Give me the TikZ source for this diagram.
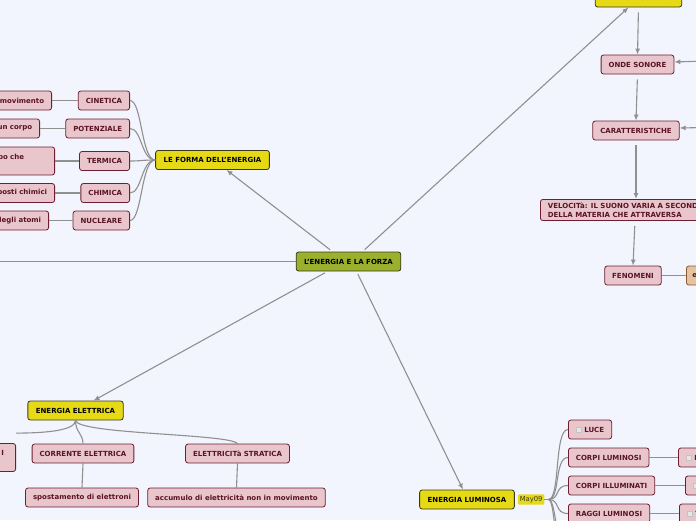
\documentclass[tikz,border=0pt]{standalone}
\usepackage{fontspec}
\setmainfont{DejaVu Sans}
\usepackage{xcolor}
\usepackage{tikz}
\usetikzlibrary{arrows.meta, positioning}
\definecolor{mapbg}{HTML}{F2F5FD}
\definecolor{pinkfill}{HTML}{E8C6CB}
\definecolor{pinkline}{HTML}{6E1E30}
\definecolor{pinktext}{HTML}{5B1326}
\definecolor{yelfill}{HTML}{E6DA17}
\definecolor{yelline}{HTML}{3A3A1A}
\definecolor{olivefill}{HTML}{9BB02C}
\definecolor{tanfill}{HTML}{E6C3A0}
\definecolor{tanline}{HTML}{8A5A30}
\definecolor{linkgray}{HTML}{909090}
\definecolor{chkfill}{HTML}{E6E6E6}
\definecolor{chkline}{HTML}{C4C4C4}
\newcommand\chkbox{{\setlength{\fboxsep}{0pt}\setlength{\fboxrule}{0.5pt}\fcolorbox{chkline}{chkfill}{\rule{0pt}{5pt}\rule{5pt}{0pt}}}}

\begin{document}
\begin{tikzpicture}[
  x=1pt, y=-1pt,
  every node/.style={font=\fontsize{7}{8.8}\selectfont\bfseries, align=center},
  mmbox/.style={draw=pinkline, fill=pinkfill, text=pinktext, line width=0.8pt, rounded corners=2.5pt, minimum height=19pt, inner xsep=7.5pt},
  mmtall/.style={mmbox, minimum height=28pt, align=right},
  topbox/.style={draw=yelline, fill=yelfill, text=black, line width=0.8pt, rounded corners=2.5pt, minimum height=19pt, inner xsep=8pt},
  rootbox/.style={topbox, fill=olivefill},
  tanbox/.style={draw=tanline, fill=tanfill, text=pinktext, line width=0.8pt, rounded corners=2.5pt, minimum height=19pt, inner xsep=6pt},
  datetag/.style={fill=yelfill, text=yelline, inner sep=1.8pt, rounded corners=1pt, font=\fontsize{6.8}{8}\selectfont},
  arr/.style={-{Latex[length=6pt,width=5pt]}, linkgray, line width=1.1pt, shorten <=3pt},
  link/.style={linkgray, line width=1.1pt}
]
\useasboundingbox (0,0) rectangle (696,520);
\fill[mapbg] (0,0) rectangle (696,520);
\clip (0,0) rectangle (696,520);

% root
\node[rootbox] (root) at (348.5,261.5) {L'ENERGIA E LA FORZA};
\coordinate (offleft) at (-10,261.5);
\draw[link] (root.west) -- (offleft);

% LE FORMA DELL'ENERGIA
\node[topbox] (forma) at (212.5,160) {LE FORMA DELL'ENERGIA};
\node[mmbox, anchor=east] (cin) at (130,100.5) {CINETICA};
\node[mmbox, anchor=east] (pot) at (130,128.5) {POTENZIALE};
\node[mmbox, anchor=east] (term) at (130,161) {TERMICA};
\node[mmbox, anchor=east] (chim) at (130,193) {CHIMICA};
\node[mmbox, anchor=east] (nucl) at (130,220.5) {NUCLEARE};
\node[mmbox, anchor=east, text width=70pt, align=right] (cinl) at (52,100.5) {movimento};
\node[mmbox, anchor=east, text width=70pt, align=right] (potl) at (40,128.5) {un corpo};
\node[mmtall, anchor=east, text width=70pt] (terml) at (55,161) {\mbox{po che\kern 23pt}\\\mbox{}};
\node[mmbox, anchor=east, text width=70pt, align=right] (chiml) at (55,193) {posti chimici};
\node[mmbox, anchor=east, text width=70pt, align=right] (nucll) at (49,220.5) {degli atomi};
\foreach \k in {cin,pot,term,chim,nucl}{
  \draw[link] (\k.east) .. controls +(12,0) and +(-14,0) .. (forma.west);
  \draw[link] (\k l.east) -- (\k.west);
}
\draw[arr] ([xshift=-16pt]root.north) -- ([xshift=14pt]forma.south);

% ENERGIA SONORA
\node[topbox] (sonora) at (638.5,-2.5) {ENERGIA SONORA};
\node[mmbox] (onde) at (637.5,64.5) {ONDE SONORE};
\node[mmbox] (caratt) at (636,130.5) {CARATTERISTICHE};
\node[mmbox, anchor=west, align=left] (veloc) at (540,210) {VELOCITà: IL SUONO VARIA A SECONDA\\DELLA MATERIA CHE ATTRAVERSA};
\node[mmbox] (fenom) at (633,275.5) {FENOMENI};
\node[tanbox, anchor=west] (eco) at (686,275.5) {eco};
\coordinate (ondein) at (705,61);
\coordinate (carattin) at (705,127.5);
\draw[arr] ([xshift=14pt]root.north) -- ([xshift=-10pt]sonora.south);
\draw[arr, shorten <=5pt] (sonora.south) -- (onde.north);
\draw[arr, shorten <=5pt] (onde.south) -- (caratt.north);
\draw[arr, shorten <=5pt] (caratt.south) -- (caratt.south |- veloc.north);
\draw[arr, shorten <=5pt] ([xshift=-1pt]caratt.south |- veloc.south) -- (fenom.north);
\draw[arr, shorten <=0pt] (ondein) -- ([yshift=2.5pt]onde.east);
\draw[arr, shorten <=0pt] (carattin) -- ([yshift=2.5pt]caratt.east);
\draw[link] (fenom.east) -- (eco.west);

% ENERGIA ELETTRICA
\node[topbox] (elet) at (75.5,410.5) {ENERGIA ELETTRICA};
\node[mmtall, anchor=east, text width=40pt] (eletx) at (16,457.5) {\mbox{I\kern 4pt}\\\mbox{}};
\node[mmbox] (corr) at (83,453.5) {CORRENTE ELETTRICA};
\node[mmbox] (strat) at (237.5,453.5) {ELETTRICITà STRATICA};
\node[mmbox] (spost) at (82,497.5) {spostamento di elettroni};
\node[mmbox] (accum) at (236.5,497.5) {accumulo di elettricità non in movimento};
\draw[arr] ([xshift=-21pt]root.south) -- ([xshift=18pt]elet.north);
\draw[link] (elet.south) .. controls +(0,10) and +(30,0) .. ([yshift=10pt]eletx.north east);
\draw[link] (elet.south) .. controls +(0,12) and +(0,-10) .. (corr.north);
\draw[link] (elet.south) .. controls +(2,14) and +(-8,-10) .. (strat.north);
\draw[link] (corr.south) -- (spost.north);
\draw[link] (strat.south) -- (accum.north);

% ENERGIA LUMINOSA
\node[topbox] (lum) at (467,499.5) {ENERGIA LUMINOSA};
\node[datetag, right=3pt of lum] (lumdate) {May09};
\coordinate[right=4pt of lumdate] (lumhub);
\node[mmbox, anchor=west] (luce) at (568,429.5) {\chkbox\ LUCE};
\node[mmbox, anchor=west] (corplum) at (568,457.5) {CORPI LUMINOSI};
\node[mmbox, anchor=west] (corpill) at (568,485.5) {CORPI ILLUMINATI};
\node[mmbox, anchor=west] (raggi) at (568,513.5) {RAGGI LUMINOSI};
\node[mmbox, anchor=west] (corplumx) at (678,457.5) {\chkbox\ E};
\node[mmbox, anchor=west] (corpillx) at (685,485.5) {\chkbox\ E};
\node[mmbox, anchor=west] (raggix) at (679,513.5) {\chkbox\ T};
\coordinate (lumlow1) at (568,545);
\coordinate (lumlow2) at (568,578);
\draw[arr] ([xshift=8pt]root.south) -- ([xshift=-4pt]lum.north);
\draw[link] (lumdate.east) -- (lumhub);
\foreach \k in {luce,corplum,corpill,raggi}{
  \draw[link] (lumhub) .. controls +(12,0) and +(-14,0) .. (\k.west);
}
\draw[link] (lumhub) .. controls +(8,0) and +(-14,0) .. (lumlow1);
\draw[link] (lumhub) .. controls +(8,0) and +(-14,0) .. (lumlow2);
\draw[link] (corplum.east) -- (corplumx.west);
\draw[link] (corpill.east) -- (corpillx.west);
\draw[link] (raggi.east) -- (raggix.west);

\end{tikzpicture}
\end{document}
